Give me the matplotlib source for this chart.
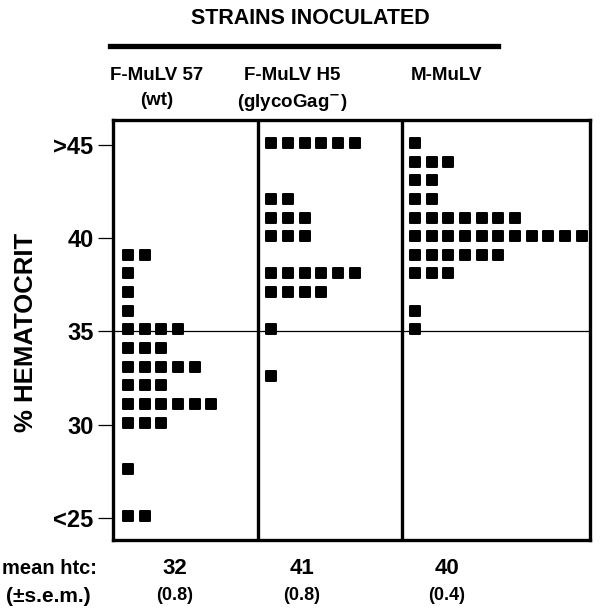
import matplotlib.pyplot as plt
from matplotlib.markers import MarkerStyle

plt.rcParams['font.family'] = ['Liberation Sans', 'DejaVu Sans']
plt.rcParams['font.weight'] = 'bold'

# hematocrit value of each row and the number of mice in that row
wt_vals = [39, 38, 37, 36, 35, 34, 33, 32, 31, 30, 27.5, 25]
wt_counts = [2, 1, 1, 1, 4, 3, 5, 3, 6, 3, 1, 2]

h5_vals = [45, 42, 41, 40, 38, 37, 35, 32.5]
h5_counts = [6, 2, 3, 3, 6, 4, 1, 1]

m_vals = [45, 44, 43, 42, 41, 40, 39, 38, 36, 35]
m_counts = [1, 3, 2, 2, 7, 11, 6, 3, 1, 1]

strains = ["F-MuLV 57\n(wt)", "F-MuLV H5\n(glycoGag$^{\\mathbf{-}}$)", "M-MuLV"]
means = ["32", "41", "40"]
sems = ["(0.8)", "(0.8)", "(0.4)"]
yticks = [45, 40, 35, 30, 25]
yticklabels = [">45", "40", "35", "30", "<25"]

W, H = 601, 611
fig = plt.figure(figsize=(W / 100, H / 100), dpi=100)
ax = fig.add_axes([113 / W, (H - 540) / H, 477 / W, 420 / H])

# x in units of one dot spacing; panel edges
edges = [0, 8.7, 17.3, 28.6]
starts = [0.9, 9.5, 18.1]
sq = MarkerStyle('s', joinstyle='round')

for start, vals, counts in zip(starts, [wt_vals, h5_vals, m_vals],
                               [wt_counts, h5_counts, m_counts]):
    xs, ys = [], []
    for v, c in zip(vals, counts):
        for i in range(c):
            xs.append(start + i)
            ys.append(v + 0.1)
    ax.plot(xs, ys, ls='none', marker=sq, ms=7.5, mew=1.4,
            color='black', mec='black')

ax.axhline(35, color='black', lw=0.9)
for e in edges[1:-1]:
    ax.axvline(e, color='black', lw=2.4)

ax.set_xlim(edges[0], edges[-1])
ax.set_ylim(23.81, 46.33)
ax.set_xticks([])
ax.set_yticks(yticks)
ax.set_yticklabels(yticklabels, fontsize=17)
ax.tick_params(axis='y', length=11, width=0.9, pad=3)
for s in ax.spines.values():
    s.set_linewidth(2.4)

fig.text(26 / W, 1 - 332 / H, "% HEMATOCRIT", rotation=90, fontsize=18.5,
         ha='center', va='center')

fig.text(310 / W, 1 - 18 / H, "STRAINS INOCULATED", fontsize=15.5,
         ha='center', va='center')
fig.add_artist(plt.Line2D([110 / W, 498 / W], [1 - 46 / H, 1 - 46 / H],
                          color='black', lw=3.8, transform=fig.transFigure))

head_x = [157, 292, 447]
for x, s in zip(head_x, strains):
    fig.text(x / W, 1 - 67 / H, s, fontsize=13.5, ha='center', va='top',
             linespacing=1.6)

fig.text(49 / W, 1 - 568 / H, "mean htc:", fontsize=14.5, ha='center',
         va='center')
fig.text(48 / W, 1 - 596 / H, "(\u00b1s.e.m.)", fontsize=15, ha='center',
         va='center')
mean_x = [175, 302, 447]
for x, m, s in zip(mean_x, means, sems):
    fig.text(x / W, 1 - 568 / H, m, fontsize=16, ha='center', va='center')
    fig.text(x / W, 1 - 596 / H, s, fontsize=13, ha='center', va='center')

fig.savefig("out.png", dpi=100)
